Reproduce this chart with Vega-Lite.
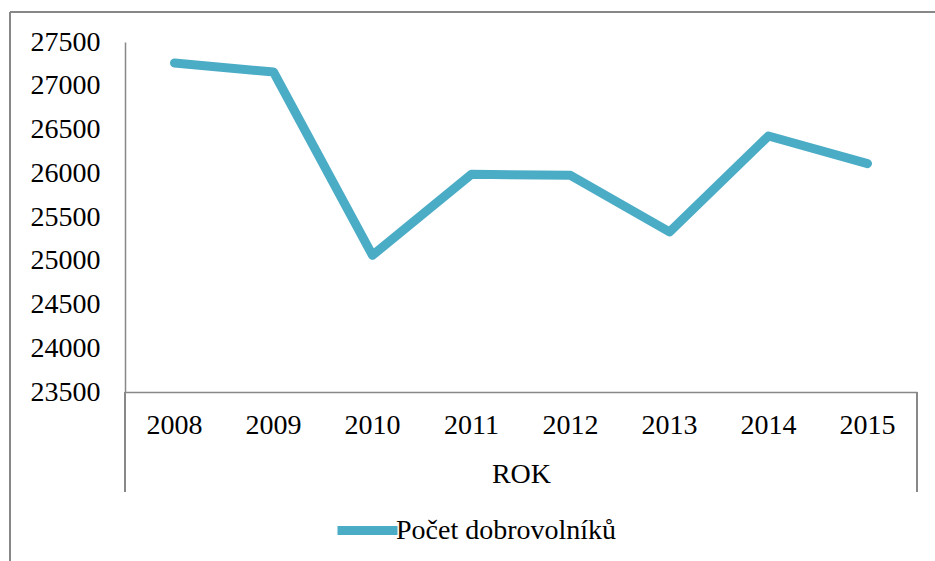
{
  "$schema": "https://vega.github.io/schema/vega-lite/v6.json",
  "autosize": "none",
  "width": 792,
  "height": 350,
  "padding": {"left": 125, "top": 42, "right": 18, "bottom": 169},
  "background": "white",
  "config": {
    "view": {"stroke": null},
    "font": "Liberation Serif"
  },
  "data": {
    "values": [
      {"rok": "2008", "pocet": 27260},
      {"rok": "2009", "pocet": 27157},
      {"rok": "2010", "pocet": 25062},
      {"rok": "2011", "pocet": 25988},
      {"rok": "2012", "pocet": 25976},
      {"rok": "2013", "pocet": 25329},
      {"rok": "2014", "pocet": 26426},
      {"rok": "2015", "pocet": 26110}
    ]
  },
  "layer": [
    {
      "mark": {"type": "line", "strokeWidth": 9, "strokeCap": "round", "strokeJoin": "round"},
      "encoding": {
        "x": {
          "field": "rok",
          "type": "ordinal",
          "scale": {"type": "band", "paddingInner": 0, "paddingOuter": 0},
          "axis": {
            "title": "ROK",
            "bandPosition": 0.5,
            "labelAngle": 0,
            "labelAlign": "center",
            "labelFont": "Liberation Serif",
            "labelFontSize": 28,
            "labelColor": "#000000",
            "labelPadding": 19,
            "ticks": false,
            "tickSize": 0,
            "domainColor": "#888888",
            "domainWidth": 1.5,
            "titleFont": "Liberation Serif",
            "titleFontSize": 28,
            "titleFontWeight": "normal",
            "titleColor": "#000000",
            "titlePadding": 21,
            "grid": false
          }
        },
        "y": {
          "field": "pocet",
          "type": "quantitative",
          "scale": {"domain": [23500, 27500], "nice": false, "zero": false},
          "axis": {
            "title": null,
            "format": "d",
            "values": [23500, 24000, 24500, 25000, 25500, 26000, 26500, 27000, 27500],
            "labelFont": "Liberation Serif",
            "labelFontSize": 28,
            "labelColor": "#000000",
            "labelPadding": 25,
            "labelFlush": false,
            "ticks": false,
            "tickSize": 0,
            "domainColor": "#888888",
            "domainWidth": 1.5,
            "grid": false
          }
        },
        "color": {
          "datum": "Počet dobrovolníků",
          "scale": {"range": ["#4BACC6"]},
          "legend": {
            "title": null,
            "orient": "none",
            "legendX": 208,
            "legendY": 454,
            "direction": "horizontal",
            "padding": 0,
            "symbolType": "stroke",
            "symbolSize": 3600,
            "symbolStrokeWidth": 9,
            "symbolStrokeColor": "#4BACC6",
            "labelFont": "Liberation Serif",
            "labelFontSize": 28,
            "labelColor": "#000000",
            "labelOffset": -6,
            "labelLimit": 400
          }
        }
      }
    },
    {
      "mark": {"type": "rule", "stroke": "#888888", "strokeWidth": 1.5, "clip": false},
      "encoding": {
        "x": {"datum": "2008", "type": "ordinal", "bandPosition": 0},
        "y": {"datum": 23500, "type": "quantitative"},
        "y2": {"datum": 22357}
      }
    },
    {
      "mark": {"type": "rule", "stroke": "#888888", "strokeWidth": 1.5, "clip": false},
      "encoding": {
        "x": {"datum": "2015", "type": "ordinal", "bandPosition": 1},
        "y": {"datum": 23500, "type": "quantitative"},
        "y2": {"datum": 22357}
      }
    },
    {
      "mark": {"type": "rule", "stroke": "#888888", "strokeWidth": 1.5, "clip": false},
      "encoding": {
        "x": {"datum": "2008", "type": "ordinal", "bandPosition": -1.1616},
        "x2": {"datum": "2015", "bandPosition": 1.25},
        "y": {"datum": 27843, "type": "quantitative"}
      }
    },
    {
      "mark": {"type": "rule", "stroke": "#888888", "strokeWidth": 1.5, "clip": false},
      "encoding": {
        "x": {"datum": "2008", "type": "ordinal", "bandPosition": -1.1616},
        "y": {"datum": 27843, "type": "quantitative"},
        "y2": {"datum": 21400}
      }
    }
  ]
}
